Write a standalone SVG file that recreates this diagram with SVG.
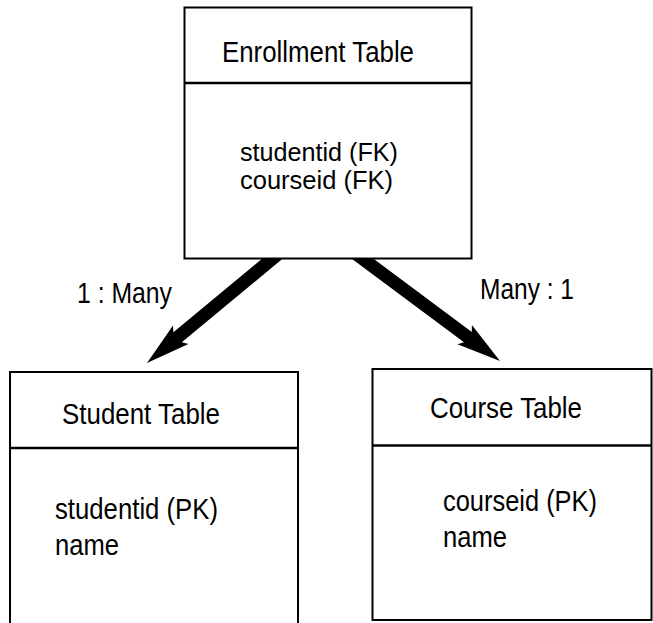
<svg xmlns="http://www.w3.org/2000/svg" width="653" height="623" viewBox="0 0 653 623">
<style>
.box{fill:#fff;stroke:#000;stroke-width:2}
.div{stroke:#000;stroke-width:2.5}
.t{font-family:"Liberation Sans",Arial,sans-serif;font-size:29px;fill:#000}
.s{font-size:26px}
.arr{fill:#000;stroke:none}
</style>
<rect width="653" height="623" fill="#fff"/>
<g id="connectors">
<polygon class="arr" points="147,363 188.4,343.9 181.8,342.3 287,255 278.6,245 173.4,332.3 173,325.5"/>
<polygon class="arr" points="500,361 457.5,344.3 464,342.3 347,255.2 354.8,244.8 471.8,331.9 471.9,325.1"/>
<text class="t" x="77" y="303" textLength="95" lengthAdjust="spacingAndGlyphs">1 : Many</text>
<text class="t" x="480" y="299" textLength="94" lengthAdjust="spacingAndGlyphs">Many : 1</text>
</g>
<g id="enrollment">
<rect class="box" x="184.5" y="7.5" width="287" height="251"/>
<line class="div" x1="184.5" y1="83" x2="471.5" y2="83"/>
<text class="t" x="222" y="62" textLength="192" lengthAdjust="spacingAndGlyphs">Enrollment Table</text>
<text class="t s" x="240" y="161" textLength="158" lengthAdjust="spacingAndGlyphs">studentid (FK)</text>
<text class="t s" x="240" y="189" textLength="153" lengthAdjust="spacingAndGlyphs">courseid (FK)</text>
</g>
<g id="student">
<rect class="box" x="10" y="372" width="288" height="260"/>
<line class="div" x1="10" y1="448" x2="298" y2="448"/>
<text class="t" x="62" y="424" textLength="158" lengthAdjust="spacingAndGlyphs">Student Table</text>
<text class="t" x="55" y="519" textLength="163" lengthAdjust="spacingAndGlyphs">studentid (PK)</text>
<text class="t" x="55" y="555" textLength="64" lengthAdjust="spacingAndGlyphs">name</text>
</g>
<g id="course">
<rect class="box" x="372.5" y="369" width="279" height="251"/>
<line class="div" x1="372.5" y1="445.5" x2="651.5" y2="445.5"/>
<text class="t" x="430" y="418" textLength="152" lengthAdjust="spacingAndGlyphs">Course Table</text>
<text class="t" x="443" y="511" textLength="154" lengthAdjust="spacingAndGlyphs">courseid (PK)</text>
<text class="t" x="443" y="547" textLength="64" lengthAdjust="spacingAndGlyphs">name</text>
</g>
</svg>
